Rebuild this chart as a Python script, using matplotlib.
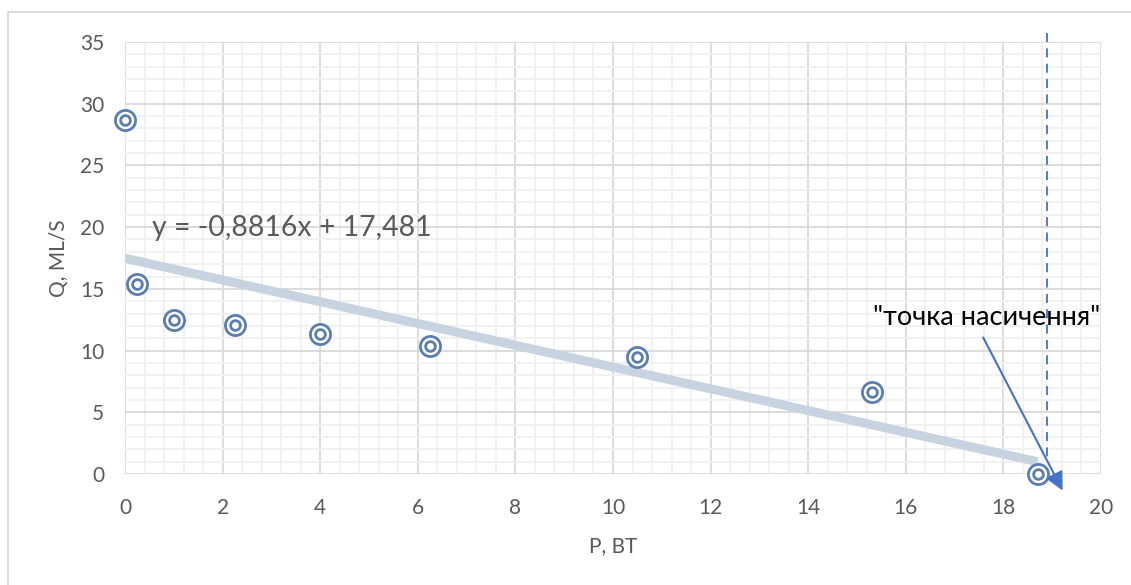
import matplotlib
matplotlib.use("Agg")
import matplotlib.pyplot as plt
from matplotlib.lines import Line2D
from matplotlib.ticker import MultipleLocator
import numpy as np

plt.rcParams['font.family'] = ['Lato', 'Open Sans', 'DejaVu Sans']

# data
P = [0, 0.25, 1.0, 2.25, 4.0, 6.25, 10.5, 15.3, 18.7]
Q = [28.7, 15.4, 12.45, 12.05, 11.35, 10.35, 9.45, 6.65, 0.0]
slope = -0.8816
intercept = 17.481
eq_label = "y = -0,8816x + 17,481"
sat_label = '"точка насичення"'
sat_x = 18.89
x_label = "P, BT"
y_label = "Q, ML/S"

W, H = 1131, 585
fig = plt.figure(figsize=(W / 100, H / 100), dpi=100)
ax = fig.add_axes([125 / W, (H - 474) / H, 976 / W, 432 / H])

# outer chart frame
fig.add_artist(Line2D([8 / W, 8 / W], [0, 1 - 12 / H], color='#d9d9d9', lw=1.3))
fig.add_artist(Line2D([8 / W, 1], [1 - 12 / H, 1 - 12 / H], color='#d9d9d9', lw=1.3))

ax.set_xlim(0, 20)
ax.set_ylim(0, 35)
ax.xaxis.set_major_locator(MultipleLocator(2))
ax.xaxis.set_minor_locator(MultipleLocator(0.4))
ax.yaxis.set_major_locator(MultipleLocator(5))
ax.yaxis.set_minor_locator(MultipleLocator(1))
ax.grid(which='minor', color='#f0f0f0', lw=1.3, zorder=0)
ax.grid(which='major', color='#d9d9d9', lw=1.3, zorder=0.5)
ax.set_axisbelow(True)
for s in ax.spines.values():
    s.set_visible(False)
ax.tick_params(which='both', length=0)
ax.tick_params(axis='x', pad=17, labelsize=15, labelcolor='#595959')
ax.tick_params(axis='y', pad=15, labelsize=15, labelcolor='#595959')

# trendline
xt = np.array([min(P), max(P)])
ax.plot(xt, slope * xt + intercept, color='#c8d3e2', lw=6.5, solid_capstyle='butt', zorder=2)

# markers (double ring)
ax.scatter(P, Q, s=14.5 ** 2, facecolor='white', edgecolor='#5a7db3', linewidth=2.0, zorder=3, clip_on=False)
ax.scatter(P, Q, s=7 ** 2, facecolor='white', edgecolor='#5a7db3', linewidth=2.0, zorder=4, clip_on=False)

# equation
ax.text(0.55, 19.9, eq_label, fontsize=20.5, color='#595959', va='center', ha='left')

# saturation dashed line
ax.plot([sat_x, sat_x], [35.7, 1.3], color='#4472c4', lw=1.3, ls=(0, (5, 3.5)), clip_on=False, zorder=5)

# annotation
ax.text(15.33, 12.7, sat_label, fontsize=19.5, color='black', va='center', ha='left')
ax.annotate('', xy=(19.24, -1.54), xytext=(17.56, 11.26),
            arrowprops=dict(arrowstyle='-|>,head_length=1.1,head_width=0.55', color='#4472c4', lw=1.5),
            annotation_clip=False, zorder=6)

ax.set_xlabel(x_label, fontsize=15, color='#595959', labelpad=13)
ax.set_ylabel(y_label, fontsize=15, color='#595959', labelpad=8)

fig.savefig('out.png', dpi=100)
